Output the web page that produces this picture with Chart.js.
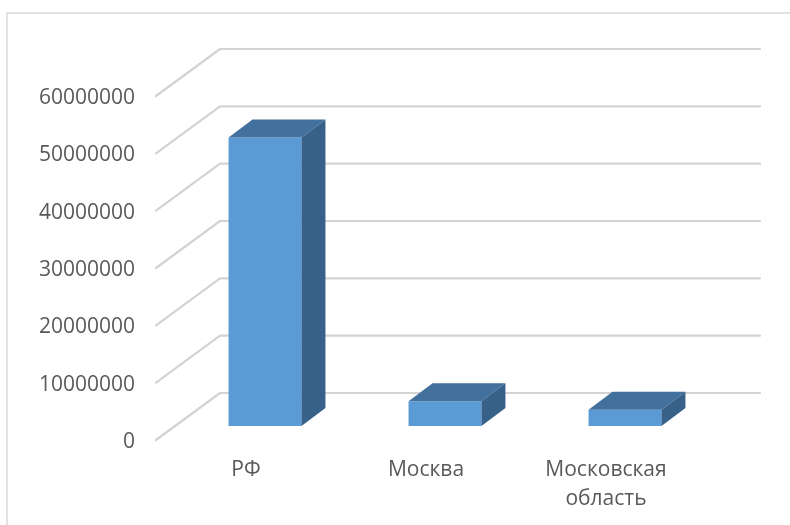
<!DOCTYPE html>
<html>
<head>
<meta charset="utf-8">
<script src="https://cdn.jsdelivr.net/npm/chart.js@4/dist/chart.umd.min.js"></script>
<style>
  html, body { margin: 0; padding: 0; background: #fff; }
  #wrap { width: 790px; height: 525px; }
</style>
</head>
<body>
<div id="wrap"><canvas id="chart" width="790" height="525"></canvas></div>
<script>
/* 3D-style column chart: front faces by Chart.js, top/side faces + back wall by plugin. */

const categories = ['РФ', 'Москва', ['Московская', 'область']];
const values = [50300000, 4300000, 2850000];
const yTicks = [0, 10000000, 20000000, 30000000, 40000000, 50000000, 60000000];

const FRONT = '#5b9bd5';
const TOP = '#41719c';
const SIDE = '#386189';
const GRID = '#d3d3d3';

// bar depth offsets, and wall offsets relative to the bar plane
const DX = 24, DY = 18;
const BACK_DX = 45, BACK_DY = 33;
const FRONT_DX = -19, FRONT_DY = 14;

const depth3d = {
  id: 'depth3d',
  beforeDraw(chart) {
    const { ctx, width, height } = chart;
    ctx.save();
    ctx.strokeStyle = '#d9d9d9';
    ctx.lineWidth = 1.5;
    ctx.beginPath();
    ctx.moveTo(7, height);
    ctx.lineTo(7, 13);
    ctx.lineTo(width, 13);
    ctx.stroke();
    ctx.restore();
  },
  beforeDatasetsDraw(chart) {
    const { ctx, chartArea: a, scales: { y } } = chart;
    ctx.save();
    ctx.strokeStyle = GRID;
    ctx.lineWidth = 2.2;
    ctx.lineJoin = 'round';
    ctx.lineCap = 'round';
    y.ticks.forEach((t) => {
      const py = y.getPixelForValue(t.value);
      ctx.beginPath();
      ctx.moveTo(a.left + FRONT_DX, py + FRONT_DY);
      ctx.lineTo(a.left + BACK_DX, py - BACK_DY);
      ctx.lineTo(a.right + BACK_DX, py - BACK_DY);
      ctx.stroke();
    });
    ctx.restore();
  },
  afterDatasetsDraw(chart) {
    const ctx = chart.ctx;
    ctx.save();
    chart.getDatasetMeta(0).data.forEach((bar) => {
      const { x, y, base, width } = bar.getProps(['x', 'y', 'base', 'width'], true);
      const l = x - width / 2, r = x + width / 2;
      ctx.fillStyle = TOP;
      ctx.beginPath();
      ctx.moveTo(l, y);
      ctx.lineTo(l + DX, y - DY);
      ctx.lineTo(r + DX, y - DY);
      ctx.lineTo(r, y);
      ctx.closePath();
      ctx.fill();
      ctx.fillStyle = SIDE;
      ctx.beginPath();
      ctx.moveTo(r, y);
      ctx.lineTo(r + DX, y - DY);
      ctx.lineTo(r + DX, base - DY);
      ctx.lineTo(r, base);
      ctx.closePath();
      ctx.fill();
    });
    ctx.restore();
  },
};

const tickFont = { family: "'Open Sans', sans-serif", size: 21, lineHeight: 1.38 };

new Chart(document.getElementById('chart'), {
  type: 'bar',
  data: {
    labels: categories,
    datasets: [{
      data: values,
      backgroundColor: FRONT,
      borderWidth: 0,
      barPercentage: 0.405,
      categoryPercentage: 1,
    }],
  },
  options: {
    responsive: false,
    animation: false,
    layout: { padding: { left: 39, right: 75, top: 82, bottom: 12 } },
    plugins: { legend: { display: false }, tooltip: { enabled: false } },
    scales: {
      x: {
        grid: { display: false, drawTicks: false },
        border: { display: false },
        ticks: {
          color: '#595959', font: tickFont, padding: 30, labelOffset: -19,
          maxRotation: 0, autoSkip: false,
        },
        afterFit(scale) { scale.height = 87; },
      },
      y: {
        min: 0,
        max: 60000000,
        grid: { display: false, drawTicks: false },
        border: { display: false },
        afterBuildTicks(scale) { scale.ticks = yTicks.map((v) => ({ value: v })); },
        ticks: {
          color: '#595959', font: tickFont, padding: 40, labelOffset: 16,
          callback: (v) => String(v),
        },
        afterFit(scale) { scale.width = 136; },
      },
    },
  },
  plugins: [depth3d],
});
</script>
</body>
</html>
